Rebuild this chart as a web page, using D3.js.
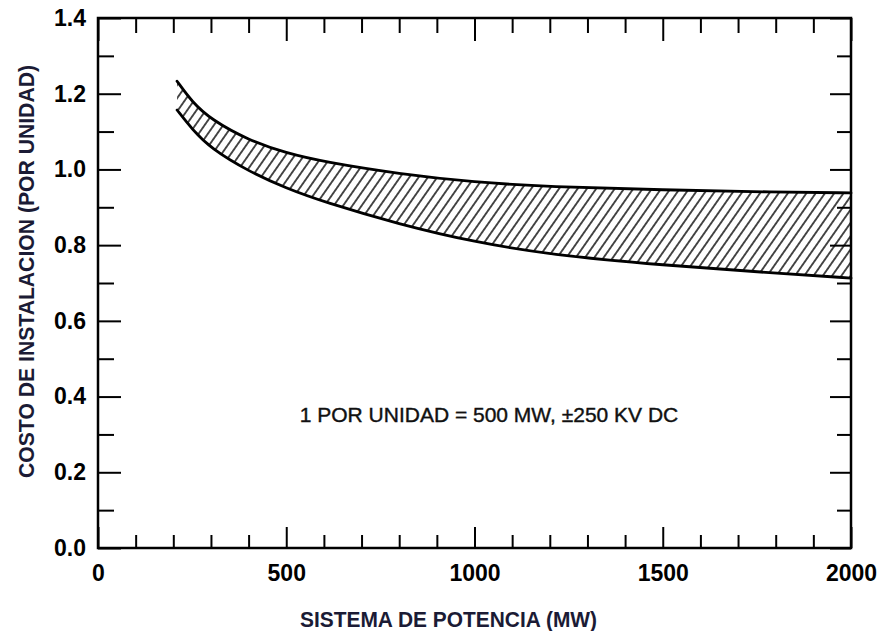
<!DOCTYPE html>
<html>
<head>
<meta charset="utf-8">
<script src="https://cdn.jsdelivr.net/npm/d3@7"></script>
<style>
  html, body { margin: 0; padding: 0; background: #fff; }
  svg { display: block; }
</style>
</head>
<body>
<svg id="chart" width="882" height="631"></svg>
<script>
// ---- data ----
const powerMW   = [210, 250, 300, 400, 500, 600, 800, 1000, 1200, 1500, 1800, 2000];
const upperCost = [1.233, 1.178, 1.132, 1.077, 1.043, 1.020, 0.988, 0.966, 0.954, 0.946, 0.940, 0.938];
const lowerCost = [1.157, 1.106, 1.055, 0.995, 0.950, 0.914, 0.855, 0.808, 0.775, 0.747, 0.726, 0.713];
const xTicks = [0, 500, 1000, 1500, 2000];
const yTicks = [0.0, 0.2, 0.4, 0.6, 0.8, 1.0, 1.2, 1.4];
const xMinorTicks = d3.range(0, 2001, 100);
const yMinorTicks = d3.range(0, 15).map(i => i / 10);
const xTitle = "SISTEMA DE POTENCIA (MW)";
const yTitle = "COSTO DE INSTALACION (POR UNIDAD)";
const note = "1 POR UNIDAD = 500 MW, \u00B1250 KV DC";

// ---- layout ----
const L = 98, R = 851, T = 18, B = 548;
const svg = d3.select("#chart");
const x = d3.scaleLinear().domain([0, 2000]).range([L, R]);
const y = d3.scaleLinear().domain([0, 1.4]).range([B, T]);

const defs = svg.append("defs");
const pat = defs.append("pattern")
  .attr("id", "hatch").attr("patternUnits", "userSpaceOnUse")
  .attr("width", 7.6).attr("height", 10)
  .attr("patternTransform", "rotate(35)");
pat.append("line").attr("x1", 3.8).attr("y1", -1).attr("x2", 3.8).attr("y2", 11)
  .attr("stroke", "#111").attr("stroke-width", 1.5);

const rows = powerMW.map((p, i) => ({ p, u: upperCost[i], l: lowerCost[i] }));
const curve = d3.curveBasis;

// band
svg.append("path")
  .datum(rows)
  .attr("fill", "url(#hatch)")
  .attr("d", d3.area().x(d => x(d.p)).y0(d => y(d.l)).y1(d => y(d.u)).curve(curve));

const lineGen = key => d3.line().x(d => x(d.p)).y(d => y(d[key])).curve(curve);
["u", "l"].forEach(k => {
  svg.append("path").datum(rows)
    .attr("fill", "none").attr("stroke", "#000").attr("stroke-width", 2.8)
    .attr("stroke-linecap", "round")
    .attr("d", lineGen(k));
});

// ---- axes ----
const fontTick = "'Liberation Sans', Arial, sans-serif";
function styleAxis(g, w) {
  g.select(".domain").remove();
  g.selectAll(".tick line").attr("stroke", "#000").attr("stroke-width", w);
  g.selectAll("text").attr("font-family", fontTick).attr("font-weight", "bold")
    .attr("font-size", 23).attr("fill", "#000");
}
// bottom
svg.append("g").attr("transform", `translate(0,${B})`)
  .call(d3.axisBottom(x).tickValues(xMinorTicks.filter(v => v % 500)).tickSize(-13).tickFormat(""))
  .call(g => styleAxis(g, 2));
svg.append("g").attr("transform", `translate(0,${B})`)
  .call(d3.axisBottom(x).tickValues(xTicks).tickSize(-21).tickPadding(17).tickFormat(d3.format("d")))
  .call(g => styleAxis(g, 2));
// top
svg.append("g").attr("transform", `translate(0,${T})`)
  .call(d3.axisTop(x).tickValues(xMinorTicks.filter(v => v % 500)).tickSize(-15).tickFormat(""))
  .call(g => styleAxis(g, 2));
svg.append("g").attr("transform", `translate(0,${T})`)
  .call(d3.axisTop(x).tickValues(xTicks).tickSize(-23).tickFormat(""))
  .call(g => styleAxis(g, 2));
// left
svg.append("g").attr("transform", `translate(${L},0)`)
  .call(d3.axisLeft(y).tickValues(yMinorTicks.filter((v, i) => i % 2)).tickSize(-16).tickFormat(""))
  .call(g => styleAxis(g, 2));
svg.append("g").attr("transform", `translate(${L},0)`)
  .call(d3.axisLeft(y).tickValues(yTicks).tickSize(-23).tickPadding(12).tickFormat(d3.format(".1f")))
  .call(g => styleAxis(g, 2));
// right
svg.append("g").attr("transform", `translate(${R},0)`)
  .call(d3.axisRight(y).tickValues(yMinorTicks.filter((v, i) => i % 2)).tickSize(-14).tickFormat(""))
  .call(g => styleAxis(g, 2));
svg.append("g").attr("transform", `translate(${R},0)`)
  .call(d3.axisRight(y).tickValues(yTicks).tickSize(-21).tickFormat(""))
  .call(g => styleAxis(g, 2));

// frame
svg.append("rect").attr("x", L).attr("y", T).attr("width", R - L).attr("height", B - T)
  .attr("fill", "none").attr("stroke", "#000").attr("stroke-width", 2.5);

// ---- titles ----
svg.append("text")
  .attr("x", 448.5).attr("y", 627).attr("text-anchor", "middle")
  .attr("font-family", fontTick).attr("font-weight", "bold").attr("font-size", 22)
  .attr("textLength", 297).attr("lengthAdjust", "spacingAndGlyphs")
  .attr("fill", "#1b1b35").text(xTitle);

svg.append("text")
  .attr("transform", "translate(34,271.5) rotate(-90)").attr("text-anchor", "middle")
  .attr("font-family", fontTick).attr("font-weight", "bold").attr("font-size", 22)
  .attr("textLength", 413).attr("lengthAdjust", "spacingAndGlyphs")
  .attr("fill", "#1b1b35").text(yTitle);

svg.append("text")
  .attr("x", 489).attr("y", 422).attr("text-anchor", "middle")
  .attr("font-family", fontTick).attr("font-size", 21).attr("stroke", "#111").attr("stroke-width", 0.4)
  .attr("fill", "#111").text(note);
</script>
</body>
</html>
